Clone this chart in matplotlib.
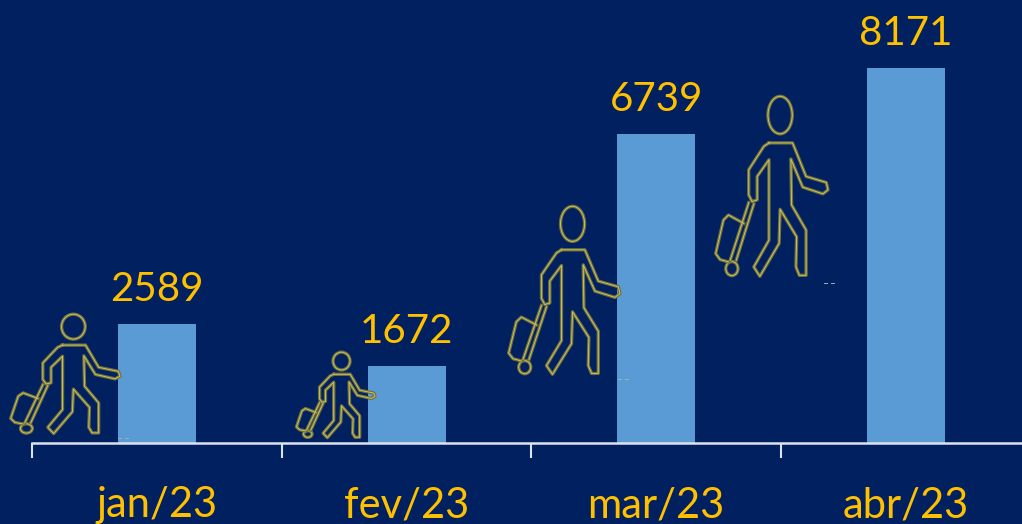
import numpy as np
import matplotlib
matplotlib.use('Agg')
import matplotlib.pyplot as plt
from matplotlib.patches import Ellipse

meses = ['jan/23', 'fev/23', 'mar/23', 'abr/23']
passageiros = [2589, 1672, 6739, 8171]

# contorno do boneco, copiado do recorte (pixels do zoom)
corpo_x = [205, 275, 315, 375, 380, 365, 305, 270, 272, 315, 315, 295, 285, 287, 238, 235, 178, 160, 205, 205, 170, 170, 155, 145, 145, 190, 205]
corpo_y = [190, 190, 290, 308, 330, 342, 322, 238, 375, 450, 585, 585, 560, 470, 388, 490, 588, 560, 480, 240, 290, 360, 365, 345, 270, 200, 190]
mala_x = [130, 85, 70, 47, 60, 85]
mala_y = [430, 405, 420, 520, 538, 545]
alca1_x = [145, 90]
alca1_y = [368, 540]
alca2_x = [160, 108]
alca2_y = [372, 540]

# caixa de cada boneco na figura: x0, x1, y0, y1
caixas = [(10, 120, 314, 434), (296, 375, 352, 438), (508, 620, 206, 375), (715, 828, 96, 277)]
# risquinhos perto do pe (so em alguns bonecos)
riscos = [(118, 438), (618, 379), (824, 283)]

FUNDO = '#002060'
BARRA = '#5B9BD5'
TEXTO = '#FFC000'
fonte = 'Lato'

fig = plt.figure(figsize=(10.22, 5.24), dpi=100, facecolor=FUNDO)
ax = fig.add_axes([0, 81 / 524, 1, 443 / 524], facecolor=FUNDO)

x = np.arange(len(meses))
barras = ax.bar(x, passageiros, width=0.3125, color=BARRA, linewidth=0)
ax.bar_label(barras, labels=[str(v) for v in passageiros], padding=11.5, color=TEXTO, fontsize=29, family=fonte)

ax.set_xlim(-157 / 249.6, (1022 - 157) / 249.6)
ax.set_ylim(0, 443 / 0.0459)
ax.set_yticks([])
for lado in ['top', 'left', 'right']:
    ax.spines[lado].set_visible(False)
ax.spines['bottom'].set_color('#DDE3EC')
ax.spines['bottom'].set_linewidth(1.8)
ax.spines['bottom'].set_bounds(-0.5, (1022 - 157) / 249.6)

ax.set_xticks(x - 0.5)
ax.set_xticklabels([])
ax.tick_params(axis='x', which='major', length=11, width=1.5, color='#DDE3EC')
ax.set_xticks(x, minor=True)
ax.set_xticklabels(meses, minor=True, color=TEXTO, fontsize=30, family=fonte)
ax.tick_params(axis='x', which='minor', length=0, pad=31)

# camada dos bonecos em pixels da figura
ov = fig.add_axes([0, 0, 1, 1], facecolor='none')
ov.set_xlim(0, 1022)
ov.set_ylim(524, 0)
ov.axis('off')


def boneco(caixa):
    x0, x1, y0, y1 = caixa
    sx = (x1 - x0) / (380 - 45)
    sy = (y1 - y0) / (590 - 50)
    px = lambda v: x0 + (np.array(v, dtype=float) - 45) * sx
    py = lambda v: y0 + (np.array(v, dtype=float) - 50) * sy
    for cor, lw in [('#6F6E40', 2.4), ('#C9C35A', 0.7)]:
        for xs, ys in [(corpo_x, corpo_y), (mala_x, mala_y), (alca1_x, alca1_y), (alca2_x, alca2_y)]:
            ov.plot(px(xs), py(ys), color=cor, lw=lw, solid_joinstyle='round')
        ov.add_patch(Ellipse((px(238), py(107)), 72 * sx, 112 * sy, fill=False, ec=cor, lw=lw))
        ov.add_patch(Ellipse((px(95), py(565)), 36 * sx, 42 * sy, fill=False, ec=cor, lw=lw))


for c in caixas:
    boneco(c)

for rx, ry in riscos:
    ov.plot([rx, rx + 3], [ry, ry], color='#9DB2A8', lw=0.7)
    ov.plot([rx + 7, rx + 10], [ry, ry], color='#9DB2A8', lw=0.7)

plt.savefig('out.png', dpi=100, facecolor=FUNDO)
